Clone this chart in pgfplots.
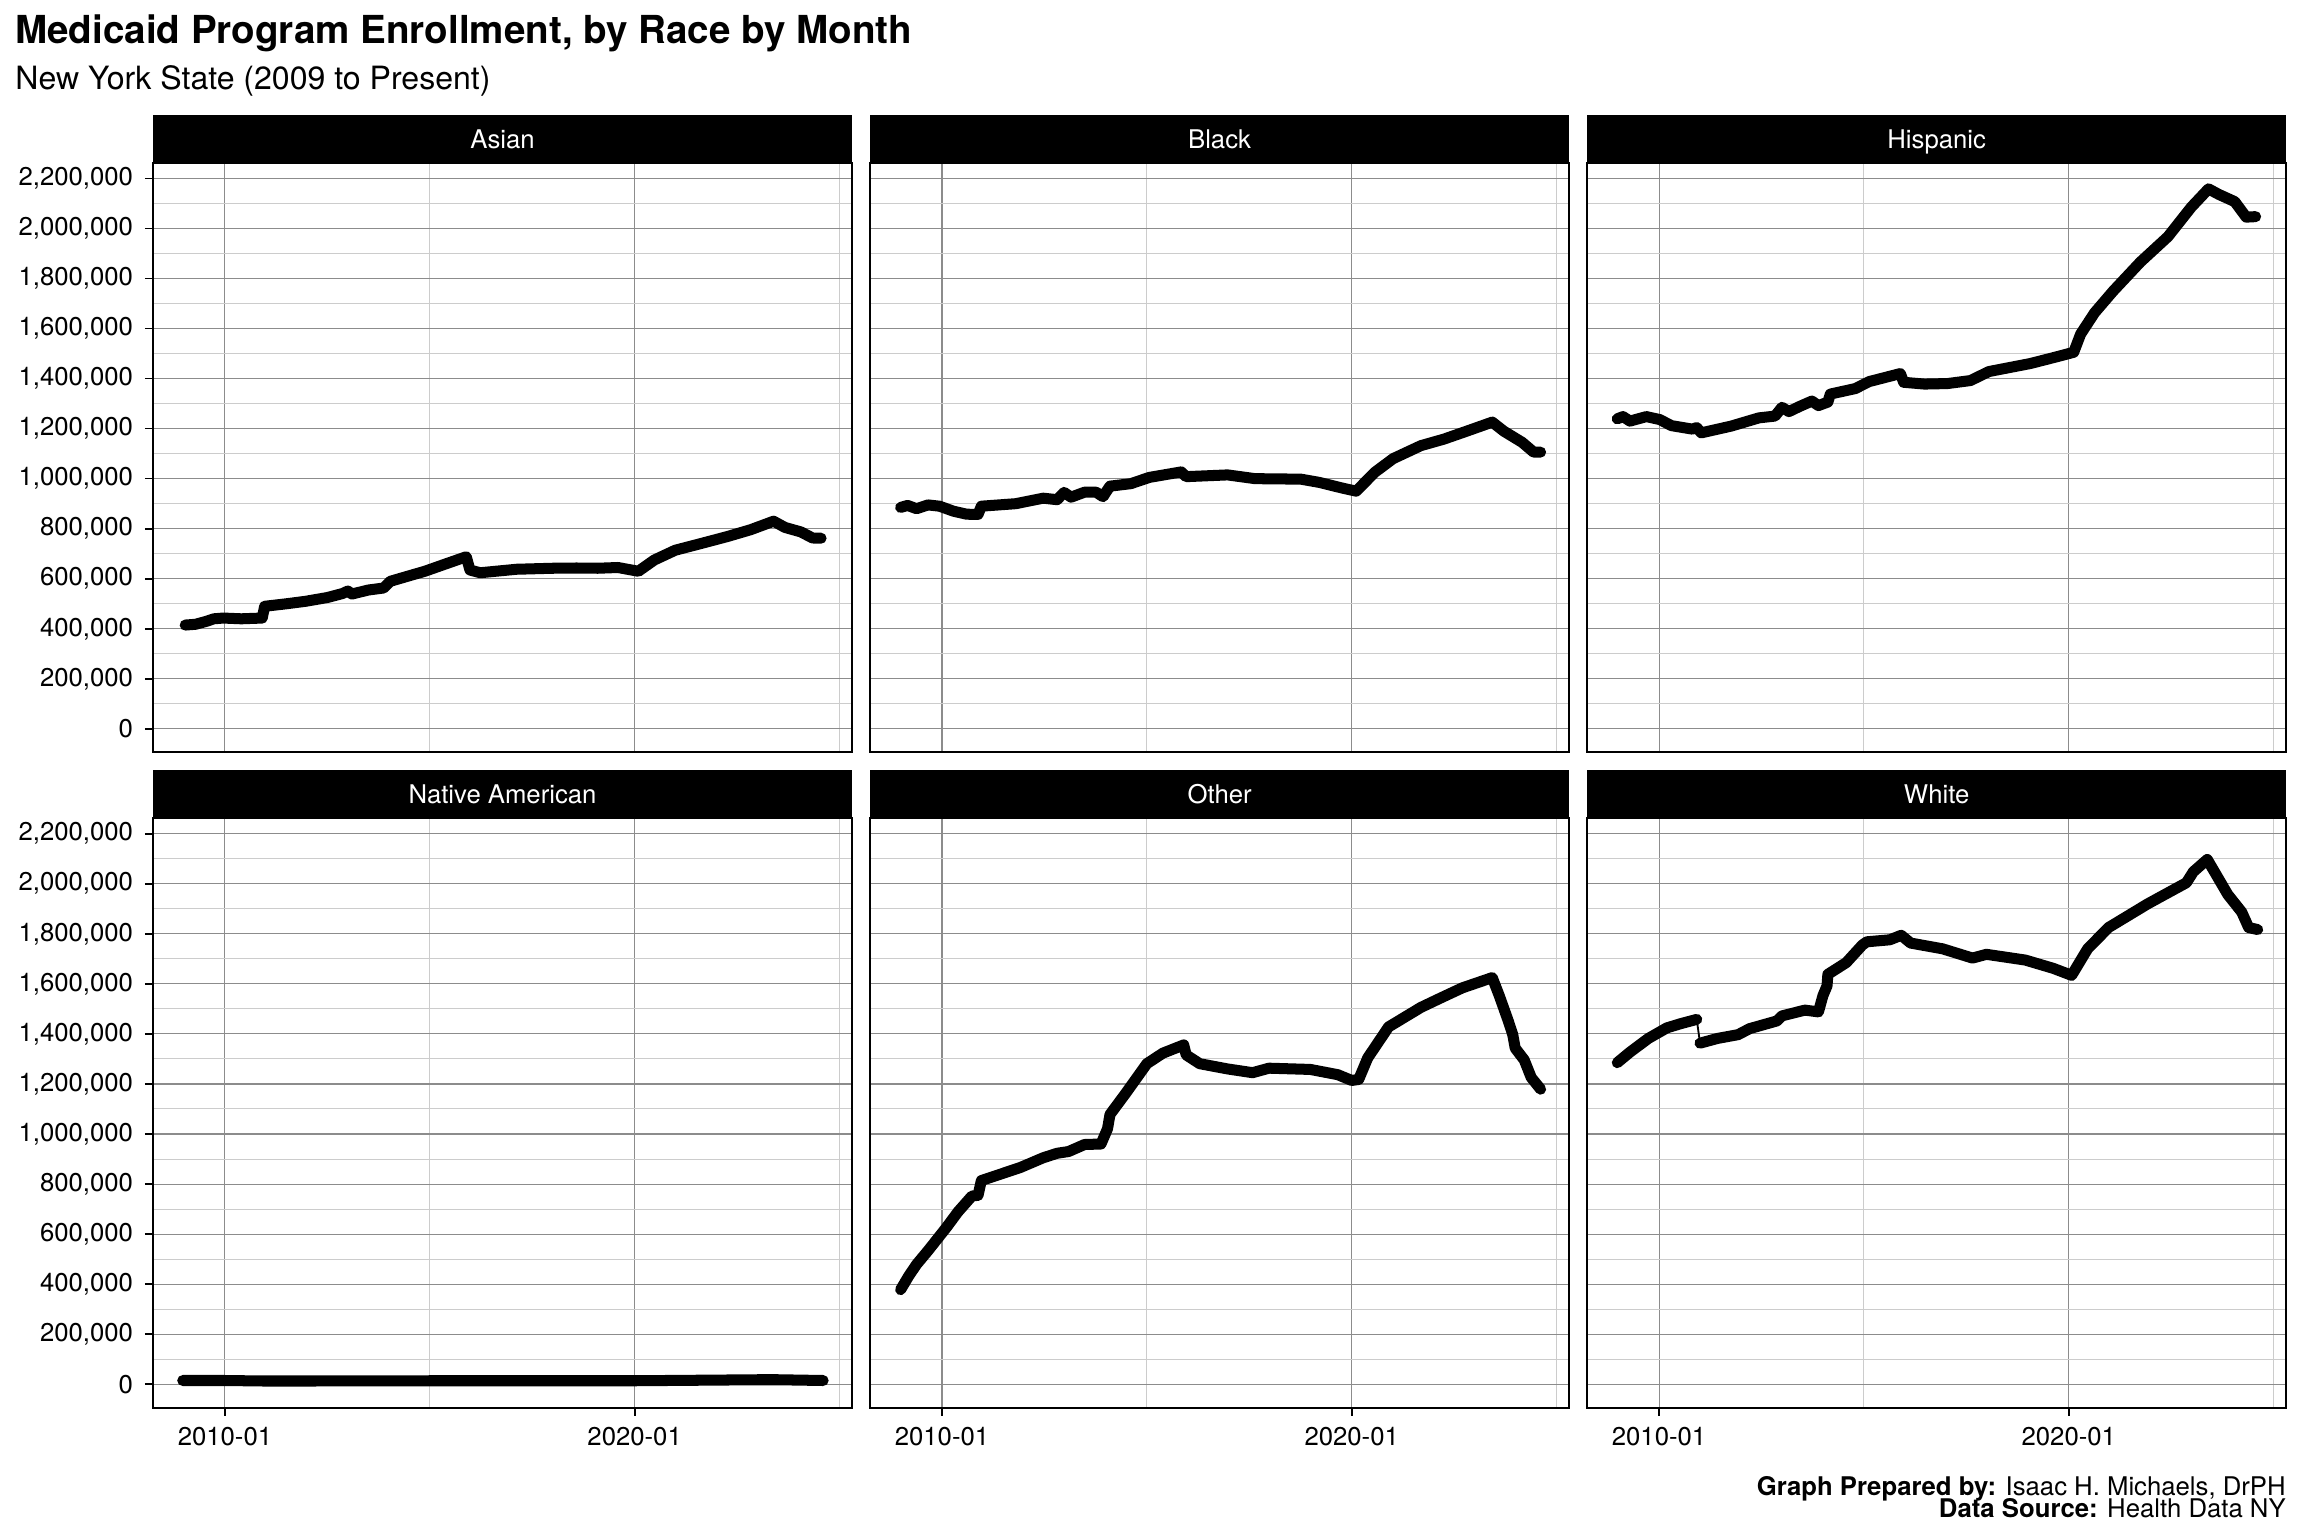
\documentclass[border=0pt]{standalone}
\usepackage{pgfplots}
\pgfplotsset{compat=1.18}
\usepackage{pgfplotstable}
\usepackage{fontspec}
\setmainfont{TeX Gyre Heros}

\pgfplotstableread{
x y
2009.03 415000
2009.28 418000
2009.55 430000
2009.73 440000
2009.96 443000
2010.40 440000
2010.91 443000
2010.97 490000
2011.50 500000
2011.97 510000
2012.50 525000
2012.87 541000
2013.00 551000
2013.10 539000
2013.50 555000
2013.87 563000
2014.04 590000
2014.50 612000
2014.88 630000
2015.40 660000
2015.89 688000
2015.98 635000
2016.23 624000
2017.12 638000
2018.00 642000
2018.58 643000
2019.10 642000
2019.59 645000
2020.09 630000
2020.48 675000
2020.99 714000
2021.60 740000
2022.27 769000
2022.83 796000
2023.39 830000
2023.67 805000
2024.06 787000
2024.34 763000
2024.55 762000
}\asian

\pgfplotstableread{
x y
2008.99 885000
2009.16 893000
2009.38 880000
2009.66 895000
2009.94 890000
2010.28 870000
2010.60 858000
2010.88 857000
2010.96 890000
2011.80 900000
2012.47 922000
2012.81 916000
2012.98 945000
2013.15 926000
2013.48 946000
2013.76 946000
2013.93 928000
2014.10 970000
2014.61 980000
2015.06 1005000
2015.84 1027000
2015.96 1008000
2016.97 1015000
2017.64 1000000
2018.76 998000
2019.21 985000
2019.78 962000
2020.11 950000
2020.56 1025000
2021.01 1080000
2021.69 1132000
2022.25 1158000
2022.81 1190000
2023.43 1226000
2023.71 1190000
2024.16 1145000
2024.44 1106000
2024.61 1106000
}\blackdata

\pgfplotstableread{
x y
2008.98 1239000
2009.12 1248000
2009.29 1230000
2009.69 1248000
2010.02 1236000
2010.30 1212000
2010.81 1198000
2010.92 1204000
2011.03 1183000
2011.76 1210000
2012.44 1243000
2012.83 1250000
2013.00 1285000
2013.17 1268000
2013.45 1290000
2013.73 1310000
2013.89 1292000
2014.12 1306000
2014.18 1338000
2014.79 1360000
2015.13 1388000
2015.89 1420000
2015.97 1385000
2016.48 1378000
2017.04 1380000
2017.60 1392000
2018.05 1428000
2019.06 1460000
2019.73 1488000
2020.12 1505000
2020.29 1578000
2020.63 1663000
2021.08 1749000
2021.75 1866000
2022.42 1967000
2022.99 2085000
2023.41 2158000
2023.66 2136000
2024.05 2107000
2024.33 2045000
2024.56 2047000
}\hispanic

\pgfplotstableread{
x y
2008.97 15000
2010.00 15000
2010.95 13000
2012.00 13000
2015.00 14000
2018.00 14000
2020.00 14000
2021.50 16000
2023.00 18000
2023.50 18000
2024.60 15000
}\native

\pgfplotstableread{
x y
2008.99 378000
2009.19 433000
2009.38 479000
2009.66 534000
2010.11 627000
2010.39 689000
2010.73 752000
2010.88 755000
2010.96 814000
2011.91 866000
2012.47 905000
2012.81 923000
2013.09 930000
2013.48 958000
2013.88 960000
2014.04 1021000
2014.10 1078000
2014.49 1164000
2015.00 1281000
2015.39 1323000
2015.90 1356000
2015.96 1316000
2016.29 1281000
2016.97 1260000
2017.58 1245000
2017.98 1263000
2018.99 1258000
2019.66 1237000
2020.00 1214000
2020.17 1218000
2020.39 1304000
2020.90 1428000
2021.69 1506000
2022.19 1545000
2022.70 1584000
2023.43 1625000
2023.60 1553000
2023.82 1452000
2023.93 1397000
2023.99 1343000
2024.21 1296000
2024.38 1226000
2024.61 1179000
}\other

\pgfplotstableread{
x y
2008.98 1285000
2009.29 1327000
2009.74 1382000
2010.19 1424000
2010.53 1441000
2010.92 1458000
nan nan
2011.00 1363000
2011.43 1382000
2011.93 1397000
2012.21 1421000
2012.88 1452000
2013.00 1472000
2013.56 1495000
2013.89 1488000
2014.00 1553000
2014.10 1592000
2014.12 1638000
2014.57 1685000
2014.96 1755000
2015.07 1768000
2015.63 1776000
2015.91 1794000
2016.14 1763000
2016.92 1740000
2017.65 1703000
2017.99 1718000
2018.94 1695000
2019.62 1662000
2020.07 1634000
2020.46 1740000
2020.97 1825000
2021.92 1919000
2022.31 1954000
2022.87 2004000
2023.04 2048000
2023.38 2097000
2023.88 1957000
2024.22 1887000
2024.39 1825000
2024.61 1817000
}\white

\pgfplotsset{
  facet/.style={
    scale only axis, width=209.44pt, height=176.44pt, anchor=north west,
    xmin=2008.24, xmax=2025.31, ymin=-93500, ymax=2261000,
    axis line style={black, line width=0.6pt},
    xtick={2010,2020}, minor xtick={2015,2025},
    ytick={0,200000,400000,600000,800000,1000000,1200000,1400000,1600000,1800000,2000000,2200000},
    minor ytick={100000,300000,500000,700000,900000,1100000,1300000,1500000,1700000,1900000,2100000},
    grid=both,
    major grid style={black!45, line width=0.33pt},
    minor grid style={black!20, line width=0.3pt},
    major tick length=2.4pt, minor tick length=0pt,
    tick align=outside, xtick pos=bottom, ytick pos=left,
    tick style={black, line width=0.5pt},
    ticklabel style={font=\fontsize{7.7}{9}\selectfont, text=black},
    xticklabels={2010-01,2020-01},
    yticklabels={0,{200,000},{400,000},{600,000},{800,000},{1,000,000},{1,200,000},{1,400,000},{1,600,000},{1,800,000},{2,000,000},{2,200,000}},
  },
  noylab/.style={yticklabels={}, ytick style={draw=none}},
  noxlab/.style={xticklabels={}, xtick style={draw=none}},
  thick series/.style={black, line width=3.3pt, line join=round, line cap=round, unbounded coords=jump},
  thin series/.style={black, line width=0.55pt, unbounded coords=discard},
}

\newcommand{\strip}[3]{%
  \fill[black] (#1,#2) rectangle ++(476,33);
  \node[anchor=base, text=white, inner sep=0pt, font=\fontsize{7.7}{9}\selectfont] at (#1+238,#2+22.8) {#3};
}

\begin{document}
\begin{tikzpicture}
\begin{scope}[x=0.44pt,y=-0.44pt]
\path (0,0) rectangle (1568,1045);

\node[anchor=base west, inner sep=0pt, font=\fontsize{11.55}{13}\selectfont\bfseries] at (10,29.5) {Medicaid Program Enrollment, by Race by Month};
\node[anchor=base west, inner sep=0pt, font=\fontsize{9.6}{11}\selectfont] at (10,61) {New York State (2009 to Present)};

\strip{104}{78}{Asian}
\strip{592}{78}{Black}
\strip{1080}{78}{Hispanic}
\strip{104}{524}{Native American}
\strip{592}{524}{Other}
\strip{1080}{524}{White}

\node[anchor=base east, inner sep=0pt, font=\fontsize{7.7}{9}\selectfont] at (1556,1018) {\textbf{Graph Prepared by:} Isaac H. Michaels, DrPH};
\node[anchor=base east, inner sep=0pt, font=\fontsize{7.7}{9}\selectfont] at (1556,1033) {\textbf{Data Source:} Health Data NY};
\end{scope}

\begin{axis}[facet, noxlab, at={(45.76pt,-48.84pt)}]
\addplot[thin series] table {\asian};
\addplot[thick series] table {\asian};
\end{axis}
\begin{axis}[facet, noxlab, noylab, at={(260.48pt,-48.84pt)}]
\addplot[thin series] table {\blackdata};
\addplot[thick series] table {\blackdata};
\end{axis}
\begin{axis}[facet, noxlab, noylab, at={(475.2pt,-48.84pt)}]
\addplot[thin series] table {\hispanic};
\addplot[thick series] table {\hispanic};
\end{axis}
\begin{axis}[facet, at={(45.76pt,-245.08pt)}]
\addplot[thin series] table {\native};
\addplot[thick series] table {\native};
\end{axis}
\begin{axis}[facet, noylab, at={(260.48pt,-245.08pt)}]
\addplot[thin series] table {\other};
\addplot[thick series] table {\other};
\end{axis}
\begin{axis}[facet, noylab, at={(475.2pt,-245.08pt)}]
\addplot[thin series] table {\white};
\addplot[thick series] table {\white};
\end{axis}
\end{tikzpicture}
\end{document}
